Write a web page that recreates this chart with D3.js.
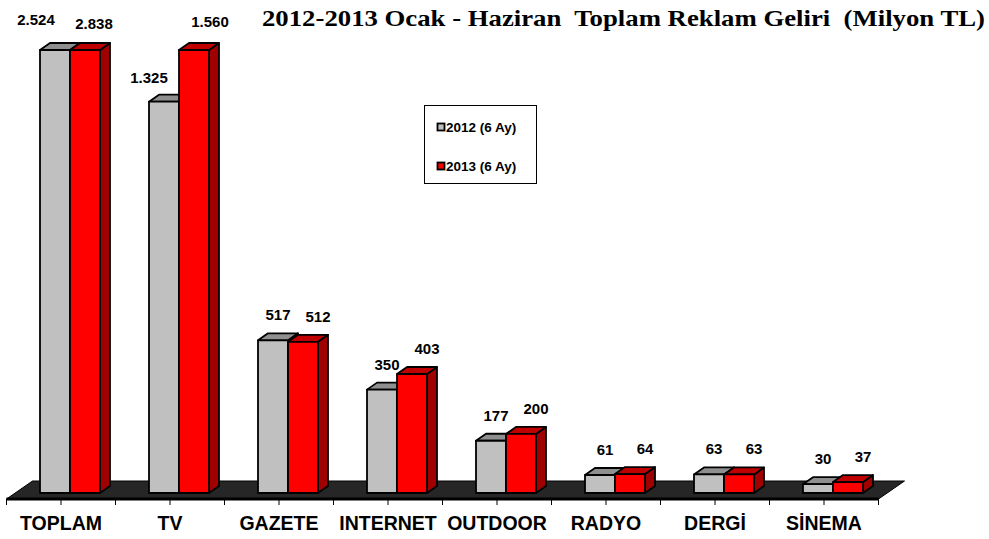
<!DOCTYPE html>
<html><head><meta charset="utf-8">
<script src="https://cdn.jsdelivr.net/npm/d3@7/dist/d3.min.js"></script>
<style>html,body{margin:0;padding:0;background:#fff;}svg{display:block;}
.sans{font-family:"Liberation Sans",Arial,sans-serif;font-weight:bold;}
.serif{font-family:"Liberation Serif","Times New Roman",serif;font-weight:bold;}
</style>
</head><body>
<svg id="chart" width="989" height="539"></svg>
<script>
const categories = ["TOPLAM","TV","GAZETE","INTERNET","OUTDOOR","RADYO","DERGİ","SİNEMA"];
const series2012 = [2524,1325,517,350,177,61,63,30];
const series2013 = [2838,1560,512,403,200,64,63,37];
const seriesNames = ["2012 (6 Ay)","2013 (6 Ay)"];
const valueLabels2012 = ["2.524","1.325","517","350","177","61","63","30"];
const valueLabels2013 = ["2.838","1.560","512","403","200","64","63","37"];
const yDomain = [0,1500];
const titleText = "2012-2013 Ocak - Haziran  Toplam Reklam Geliri  (Milyon TL)";

const svg = d3.select("#chart");

// layout (not data)
const floorFrontY = 499, floorDepth = {dx:26, dy:-18};
const barFront = {dx:9, dy:-6}, barDepth = {dx:10, dy:-7};
const barW = 30;
// manual label nudges as in the reference (dx, dy) for the tall categories
const labelNudge = {"TOPLAM":[[-24,-5],[-6,-1]], "TV":[[-20,1],[1,-3]]};

const x = d3.scaleBand().domain(categories).range([6.5, 878.5]);
const baseY = floorFrontY + barFront.dy;
const y = d3.scaleLinear().domain(yDomain).range([baseY, 50]).clamp(true);

const colors = [
  {front:"#c0c0c0", top:"#8f8f8f", side:"#7a7a7a"},
  {front:"#ff0000", top:"#c00000", side:"#a00000"}
];

// floor
const fx0 = x.range()[0], fx1 = x.range()[1];
svg.append("path")
  .attr("d", `M${fx0},${floorFrontY} L${fx1},${floorFrontY} L${fx1+floorDepth.dx},${floorFrontY+floorDepth.dy} L${fx0+floorDepth.dx},${floorFrontY+floorDepth.dy} Z`)
  .attr("fill","#262626").attr("stroke","#000").attr("stroke-width",1);
svg.append("line").attr("x1",fx0).attr("x2",fx1).attr("y1",floorFrontY).attr("y2",floorFrontY)
  .attr("stroke","#000").attr("stroke-width",3);

// ticks
const tickXs = [];
categories.forEach(c => { tickXs.push(x(c)); tickXs.push(x(c)+x.bandwidth()/2); });
tickXs.push(fx1);
svg.append("g").selectAll("line").data(tickXs).join("line")
  .attr("x1",d=>d).attr("x2",d=>d).attr("y1",floorFrontY).attr("y2",floorFrontY+6)
  .attr("stroke","#000").attr("stroke-width",1);

// bars
const data = categories.map((c,i)=>({cat:c, vals:[series2012[i], series2013[i]], labels:[valueLabels2012[i], valueLabels2013[i]]}));
const gBars = svg.append("g");
const gLabels = svg.append("g");
data.forEach(d => {
  const pairStart = x(d.cat) + barFront.dx + (x.bandwidth() - 2*barW)/2;
  d.vals.forEach((v,s) => {
    const x0 = pairStart + s*barW, x1 = x0 + barW;
    const yt = y(v), yb = baseY;
    const c = colors[s];
    const g = gBars.append("g").attr("stroke","#000").attr("stroke-width",1.8).attr("stroke-linejoin","round");
    g.append("path").attr("d",`M${x1},${yb} L${x1+barDepth.dx},${yb+barDepth.dy} L${x1+barDepth.dx},${yt+barDepth.dy} L${x1},${yt} Z`).attr("fill",c.side);
    g.append("path").attr("d",`M${x0},${yt} L${x1},${yt} L${x1+barDepth.dx},${yt+barDepth.dy} L${x0+barDepth.dx},${yt+barDepth.dy} Z`).attr("fill",c.top);
    g.append("rect").attr("x",x0).attr("y",yt).attr("width",barW).attr("height",yb-yt).attr("fill",c.front);
    const nud = labelNudge[d.cat] ? labelNudge[d.cat][s] : [0,0];
    gLabels.append("text").attr("class","sans")
      .attr("x", x0 + barW/2 + (s===0?5:15) + nud[0]).attr("y", yt + barDepth.dy - 13 + nud[1])
      .attr("text-anchor","middle").attr("font-size","15px").attr("fill","#000").text(d.labels[s]);
  });
});

// category labels
svg.append("g").selectAll("text").data(categories).join("text").attr("class","sans")
  .attr("x", d=>x(d)+x.bandwidth()/2).attr("y", 530)
  .attr("text-anchor","middle").attr("font-size","19.5px").attr("fill","#000").text(d=>d);

// title
const t = svg.append("text").attr("class","serif").attr("x", 262).attr("y", 26)
  .attr("font-size","22.5px").style("white-space","pre").attr("fill","#000").text(titleText);
const tl = t.node().getComputedTextLength();
if (Math.abs(tl - 723) > 4) t.attr("textLength", 723).attr("lengthAdjust","spacingAndGlyphs");

// legend
const lg = svg.append("g");
lg.append("rect").attr("x",424.5).attr("y",105.5).attr("width",112).attr("height",78)
  .attr("fill","#fff").attr("stroke","#000").attr("stroke-width",1);
seriesNames.forEach((n,i)=>{
  const yy = 124 + i*39;
  lg.append("rect").attr("x",437.5).attr("y",yy-0.5).attr("width",7).attr("height",7)
    .attr("fill",colors[i].front).attr("stroke","#000").attr("stroke-width",1.8);
  lg.append("text").attr("class","sans").attr("x",446).attr("y",yy+7.5)
    .attr("font-size","13.5px").attr("fill","#000").text(n);
});
</script>
</body></html>
